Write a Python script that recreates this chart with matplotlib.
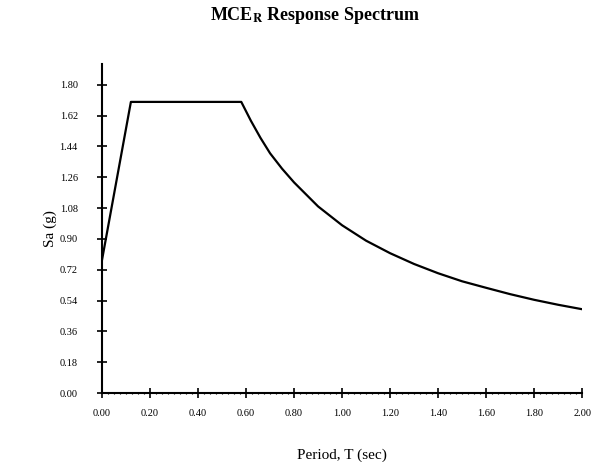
import matplotlib
matplotlib.use("Agg")
import matplotlib.pyplot as plt
from matplotlib.ticker import MultipleLocator

plt.rcParams['font.family'] = ['Liberation Serif', 'DejaVu Serif']
plt.rcParams['mathtext.fontset'] = 'stix'

# periods (sec) and spectral acceleration (g)
period = [0.00, 0.12, 0.58, 0.62, 0.66, 0.70, 0.75, 0.80, 0.85, 0.90,
          0.95, 1.00, 1.10, 1.20, 1.30, 1.40, 1.50, 1.60, 1.70, 1.80,
          1.90, 2.00]
sa = [0.78, 1.70, 1.70, 1.59, 1.49, 1.40, 1.31, 1.23, 1.16, 1.09,
      1.035, 0.98, 0.89, 0.817, 0.754, 0.70, 0.653, 0.615, 0.578, 0.545,
      0.516, 0.49]

xticks = [0.00, 0.20, 0.40, 0.60, 0.80, 1.00, 1.20, 1.40, 1.60, 1.80, 2.00]
yticks = [0.00, 0.18, 0.36, 0.54, 0.72, 0.90, 1.08, 1.26, 1.44, 1.62, 1.80]

fig = plt.figure(figsize=(5.97, 4.62), dpi=100)
ax = fig.add_axes([0.171, 0.149, 0.804, 0.712])

ax.plot(period, sa, color='black', linewidth=1.6)

ax.set_xlim(0, 2.0)
ax.set_ylim(0, 1.92)
ax.set_xticks(xticks)
ax.set_yticks(yticks)
ax.set_xticklabels([f"{t:.2f}" for t in xticks])
ax.set_yticklabels([f"{v:.2f}" for v in yticks])
ax.xaxis.set_minor_locator(MultipleLocator(0.025))

ax.spines['top'].set_visible(False)
ax.spines['right'].set_visible(False)
ax.spines['left'].set_linewidth(1.5)
ax.spines['bottom'].set_linewidth(1.5)
ax.tick_params(axis='both', which='major', direction='inout', length=7, width=1.2,
               labelsize=7.5, pad=8)
ax.tick_params(axis='y', which='major', pad=14)
ax.tick_params(axis='x', which='minor', direction='inout', length=2, width=0.8)

ax.set_xlabel('Period, T (sec)', fontsize=11, labelpad=22)
ax.set_ylabel('Sa (g)', fontsize=11, labelpad=2)

fig.text(0.528, 0.966, r'MCE$_\mathbf{R}$ Response Spectrum', fontsize=13,
         fontweight='bold', ha='center', va='center')

fig.savefig('out.png', dpi=100)
